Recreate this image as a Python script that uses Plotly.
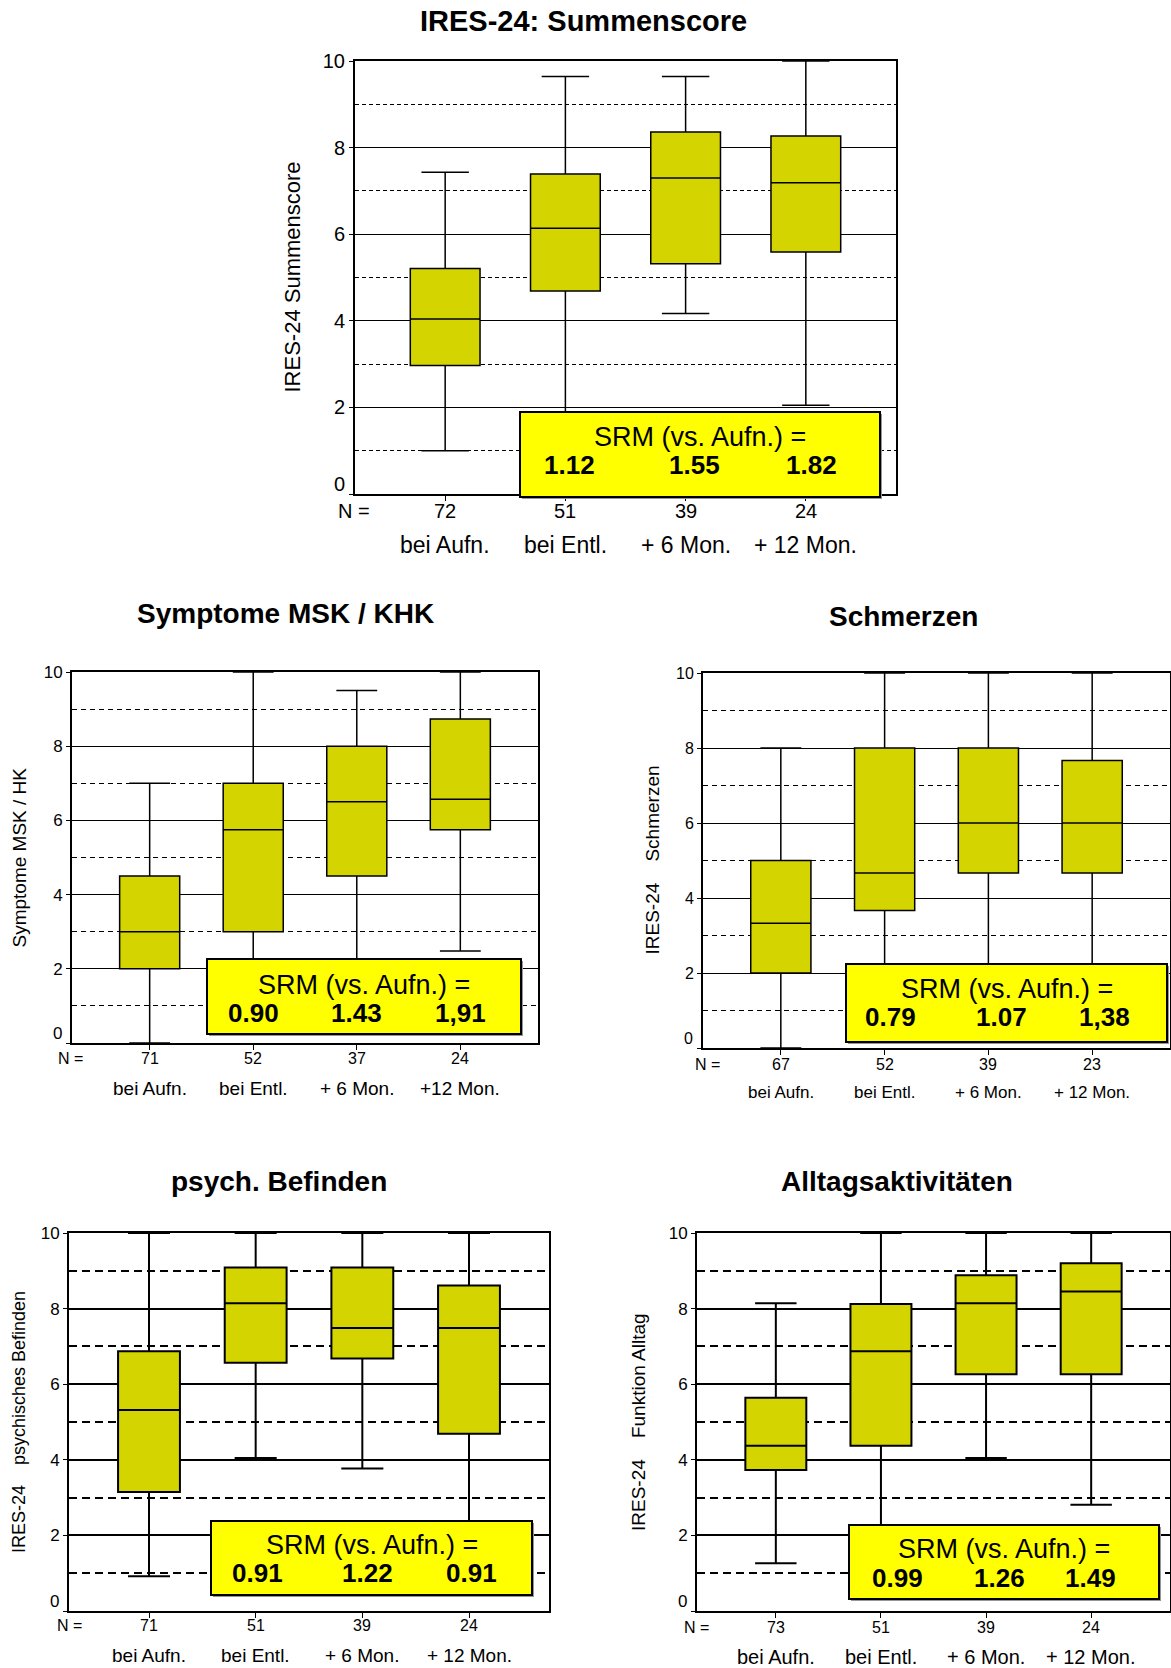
import plotly.graph_objects as go

W, H = 1171, 1668

# ---------------- data ----------------
cat_top = ["bei Aufn.", "bei Entl.", "+ 6 Mon.", "+ 12 Mon."]
cat_msk = ["bei Aufn.", "bei Entl.", "+ 6 Mon.", "+12 Mon."]
cat_std = ["bei Aufn.", "bei Entl.", "+ 6 Mon.", "+ 12 Mon."]

sum_n = [72, 51, 39, 24]
sum_low = [1.0, 1.0, 4.17, 2.05]
sum_q1 = [2.97, 4.69, 5.32, 5.59]
sum_med = [4.04, 6.14, 7.30, 7.19]
sum_q3 = [5.21, 7.39, 8.36, 8.27]
sum_high = [7.43, 9.64, 9.64, 10.0]
sum_srm = ["1.12", "1.55", "1.82"]

msk_n = [71, 52, 37, 24]
msk_low = [0.0, 1.0, 1.0, 2.48]
msk_q1 = [2.0, 3.0, 4.5, 5.75]
msk_med = [3.0, 5.75, 6.5, 6.57]
msk_q3 = [4.5, 7.0, 8.0, 8.73]
msk_high = [7.0, 10.0, 9.5, 10.0]
msk_srm = ["0.90", "1.43", "1,91"]

pain_n = [67, 52, 39, 23]
pain_low = [0.0, 1.0, 1.0, 1.0]
pain_q1 = [2.0, 3.67, 4.67, 4.67]
pain_med = [3.33, 4.67, 6.0, 6.0]
pain_q3 = [5.0, 8.0, 8.0, 7.67]
pain_high = [8.0, 10.0, 10.0, 10.0]
pain_srm = ["0.79", "1.07", "1,38"]

psy_n = [71, 51, 39, 24]
psy_low = [0.92, 4.05, 3.77, 1.0]
psy_q1 = [3.15, 6.57, 6.68, 4.69]
psy_med = [5.32, 8.14, 7.49, 7.49]
psy_q3 = [6.87, 9.09, 9.09, 8.61]
psy_high = [10.0, 10.0, 10.0, 10.0]
psy_srm = ["0.91", "1.22", "0.91"]

adl_n = [73, 51, 39, 24]
adl_low = [1.26, 1.0, 4.05, 2.81]
adl_q1 = [3.73, 4.37, 6.26, 6.26]
adl_med = [4.37, 6.87, 8.14, 8.45]
adl_q3 = [5.64, 8.12, 8.88, 9.20]
adl_high = [8.14, 10.0, 10.0, 10.0]
adl_srm = ["0.99", "1.26", "1.49"]

y_ticks = [0, 2, 4, 6, 8, 10]
y_tick_text = ["", "2", "4", "6", "8", "10"]
positions = [0, 1, 2, 3]

# ---------------- layout helpers ----------------
FONT = "Liberation Sans, Arial, Helvetica, sans-serif"
BOX_FILL = "rgb(212,212,0)"
SRM_FILL = "#FFFF00"
NB = "\u00a0" * 4


def fx(v):
    return v / W


def fy(v):
    return 1 - v / H


panels = [
    dict(title="IRES-24: Summenscore", ytitle="IRES-24 Summenscore", cats=cat_top,
         n=sum_n, low=sum_low, q1=sum_q1, med=sum_med, q3=sum_q3, high=sum_high, srm=sum_srm,
         plot=(355, 61, 896, 494), tpos=(583, 21), ytx=292, ny=511, cy=545, nx=354,
         srmbox=(520, 412, 880, 497), srmy=437, numy=465, srmdx=[0.03, 0.07, 0.05],
         fs_tick=20, fs_n=20, fs_cat=23, fs_yt=22, fs_title=29,
         gw=1, dash="4px,3px", blw=1.5),
    dict(title="Symptome MSK / KHK", ytitle="Symptome MSK / HK", cats=cat_msk,
         n=msk_n, low=msk_low, q1=msk_q1, med=msk_med, q3=msk_q3, high=msk_high, srm=msk_srm,
         plot=(72, 672, 538, 1043), tpos=(285, 614), ytx=19, ny=1058, cy=1088, nx=70,
         srmbox=(207, 959, 521, 1034), srmy=985, numy=1013, srmdx=[0.0, 0.0, 0.0],
         fs_tick=17, fs_n=16, fs_cat=19, fs_yt=19, fs_title=28,
         gw=1, dash="5px,4px", blw=1.5),
    dict(title="Schmerzen", ytitle="IRES-24" + NB + "Schmerzen", cats=cat_std,
         n=pain_n, low=pain_low, q1=pain_q1, med=pain_med, q3=pain_q3, high=pain_high, srm=pain_srm,
         plot=(703, 673, 1170, 1048), tpos=(903, 617), ytx=652, ny=1064, cy=1092, nx=707,
         srmbox=(846, 964, 1167, 1042), srmy=989, numy=1017, srmdx=[0.06, 0.13, 0.12],
         fs_tick=16, fs_n=16, fs_cat=17, fs_yt=19, fs_title=28,
         gw=1, dash="5px,4px", blw=1.5),
    dict(title="psych. Befinden", ytitle="IRES-24" + NB + "psychisches Befinden", cats=cat_std,
         n=psy_n, low=psy_low, q1=psy_q1, med=psy_med, q3=psy_q3, high=psy_high, srm=psy_srm,
         plot=(69, 1233, 549, 1611), tpos=(279, 1181), ytx=19, ny=1625, cy=1655, nx=69,
         srmbox=(211, 1521, 532, 1595), srmy=1545, numy=1573, srmdx=[0.02, 0.05, 0.02],
         fs_tick=17, fs_n=16, fs_cat=19, fs_yt=18, fs_title=28,
         gw=1.5, dash="8px,5px", blw=2),
    dict(title="Alltagsaktivitäten", ytitle="IRES-24" + NB + "Funktion Alltag", cats=cat_std,
         n=adl_n, low=adl_low, q1=adl_q1, med=adl_med, q3=adl_q3, high=adl_high, srm=adl_srm,
         plot=(697, 1233, 1170, 1611), tpos=(897, 1181), ytx=638, ny=1627, cy=1657, nx=696,
         srmbox=(849, 1525, 1159, 1599), srmy=1549, numy=1578, srmdx=[0.16, 0.13, -0.01],
         fs_tick=17, fs_n=16, fs_cat=20, fs_yt=19, fs_title=28,
         gw=1.5, dash="8px,5px", blw=2),
]

fig = go.Figure()
annotations = []
shapes = []
layout_axes = {}

for i, p in enumerate(panels):
    k = "" if i == 0 else str(i + 1)
    xa, ya = "x" + k, "y" + k
    x0, y0, x1, y1 = p["plot"]

    fig.add_trace(go.Box(
        x=positions, q1=p["q1"], median=p["med"], q3=p["q3"],
        lowerfence=p["low"], upperfence=p["high"],
        fillcolor=BOX_FILL, line=dict(color="black", width=p["blw"]),
        width=0.58, whiskerwidth=0.68, boxpoints=False,
        showlegend=False, hoverinfo="skip", xaxis=xa, yaxis=ya,
    ))

    layout_axes["xaxis" + k] = dict(
        domain=[fx(x0), fx(x1)], anchor=ya, range=[-0.75, 3.75],
        tickmode="array", tickvals=positions, showticklabels=False,
        ticks="outside", ticklen=5, tickcolor="black", tickwidth=1,
        showline=True, mirror=True, linecolor="black", linewidth=2,
        showgrid=False, zeroline=False, fixedrange=True, automargin=False,
    )
    layout_axes["yaxis" + k] = dict(
        domain=[fy(y1), fy(y0)], anchor=xa, range=[0, 10],
        tickmode="array", tickvals=y_ticks, ticktext=y_tick_text,
        ticks="outside", ticklen=4, tickcolor="black", tickwidth=1,
        tickfont=dict(family=FONT, size=p["fs_tick"], color="black"),
        showline=True, mirror=True, linecolor="black", linewidth=2,
        showgrid=True, gridcolor="black", gridwidth=p["gw"],
        minor=dict(dtick=1, tick0=0, showgrid=True, gridcolor="black",
                   griddash=p["dash"], gridwidth=p["gw"]),
        zeroline=False, fixedrange=True, automargin=False,
    )

    # "0" tick label, lifted above the axis line as in the original
    annotations.append(dict(
        text="0", xref="paper", yref=ya, x=fx(x0 - 8), y=0, yshift=10,
        xanchor="right", yanchor="middle", showarrow=False,
        font=dict(family=FONT, size=p["fs_tick"], color="black"),
    ))
    # panel title
    annotations.append(dict(
        text="<b>" + p["title"] + "</b>", xref="paper", yref="paper",
        x=fx(p["tpos"][0]), y=fy(p["tpos"][1]), xanchor="center", yanchor="middle",
        showarrow=False, font=dict(family=FONT, size=p["fs_title"], color="black"),
    ))
    # y axis title
    annotations.append(dict(
        text=p["ytitle"], xref="paper", yref="paper",
        x=fx(p["ytx"]), y=fy((y0 + y1) / 2), xanchor="center", yanchor="middle",
        textangle=-90, showarrow=False,
        font=dict(family=FONT, size=p["fs_yt"], color="black"),
    ))
    # N =
    annotations.append(dict(
        text="N =", xref="paper", yref="paper",
        x=fx(p["nx"]), y=fy(p["ny"]), xanchor="center", yanchor="middle",
        showarrow=False, font=dict(family=FONT, size=p["fs_n"], color="black"),
    ))
    # N values and category labels
    for pos, nv, c in zip(positions, p["n"], p["cats"]):
        annotations.append(dict(
            text=str(nv), xref=xa, yref="paper", x=pos, y=fy(p["ny"]),
            xanchor="center", yanchor="middle", showarrow=False,
            font=dict(family=FONT, size=p["fs_n"], color="black"),
        ))
        annotations.append(dict(
            text=c, xref=xa, yref="paper", x=pos, y=fy(p["cy"]),
            xanchor="center", yanchor="middle", showarrow=False,
            font=dict(family=FONT, size=p["fs_cat"], color="black"),
        ))
    # SRM box
    bx0, by0, bx1, by1 = p["srmbox"]
    shapes.append(dict(
        type="rect", xref="paper", yref="paper",
        x0=fx(bx0 + 2), x1=fx(bx1 + 2), y0=fy(by1 + 2), y1=fy(by0 + 2),
        fillcolor="rgb(150,150,150)", line=dict(width=0), layer="above",
    ))
    shapes.append(dict(
        type="rect", xref="paper", yref="paper",
        x0=fx(bx0), x1=fx(bx1), y0=fy(by1), y1=fy(by0),
        fillcolor=SRM_FILL, line=dict(color="black", width=2), layer="above",
    ))
    annotations.append(dict(
        text="SRM (vs. Aufn.) =", xref="paper", yref="paper",
        x=fx((bx0 + bx1) / 2), y=fy(p["srmy"]), xanchor="center", yanchor="middle",
        showarrow=False, font=dict(family=FONT, size=27, color="black"),
    ))
    for pos, dx, s in zip(positions[1:], p["srmdx"], p["srm"]):
        annotations.append(dict(
            text="<b>" + s + "</b>", xref=xa, yref="paper", x=pos + dx, y=fy(p["numy"]),
            xanchor="center", yanchor="middle", showarrow=False,
            font=dict(family=FONT, size=26, color="black"),
        ))

fig.update_layout(
    width=W, height=H, margin=dict(l=0, r=0, t=0, b=0, pad=0, autoexpand=False),
    paper_bgcolor="white", plot_bgcolor="white",
    showlegend=False, annotations=annotations, shapes=shapes,
    font=dict(family=FONT, color="black"),
    **layout_axes,
)

fig.write_html(
    "out.html",
    config={"displayModeBar": False},
    post_script="document.body.style.margin='0';document.body.style.overflow='hidden';",
)
